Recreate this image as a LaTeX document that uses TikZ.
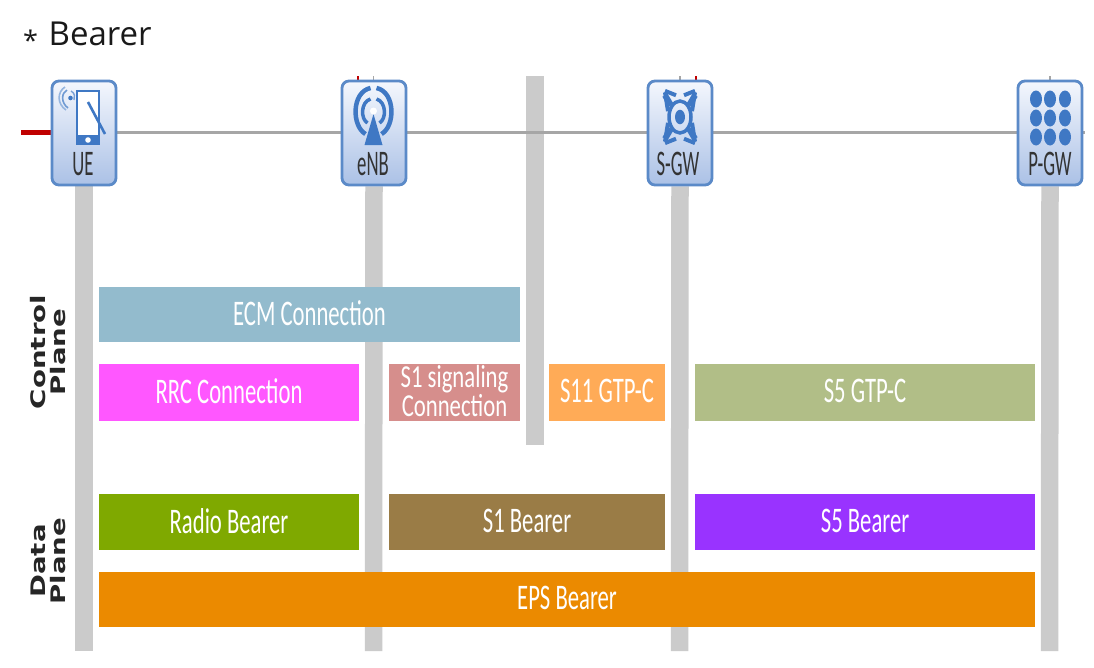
\documentclass[tikz,border=0pt]{standalone}
\usepackage{graphicx}
\usepackage{fontspec}
\setmainfont{Carlito}
\newfontfamily\titlefont{Open Sans}
\newfontfamily\planefont{DejaVu Sans}
\usetikzlibrary{backgrounds}
\definecolor{boxline}{HTML}{5B8AC8}
\definecolor{boxtop}{HTML}{F4F7FD}
\definecolor{boxbot}{HTML}{ABC1E6}
\definecolor{icon}{HTML}{3F78C4}
\definecolor{life}{HTML}{CBCBCB}
\definecolor{wire}{HTML}{A6A6A6}
\definecolor{redw}{HTML}{C00000}
\definecolor{cECM}{HTML}{93BBCD}
\definecolor{cRRC}{HTML}{FF57FF}
\definecolor{cSig}{HTML}{D68E8C}
\definecolor{cSeleven}{HTML}{FFAB57}
\definecolor{cSfive}{HTML}{B1BE87}
\definecolor{cRadio}{HTML}{7FA900}
\definecolor{cSone}{HTML}{9A7C46}
\definecolor{cSfiveB}{HTML}{9933FF}
\definecolor{cEPS}{HTML}{EB8A00}
\newcommand{\cond}[1]{\raisebox{2.5pt}{\scalebox{.63}[1]{#1}}}
\newcommand{\condn}[1]{\scalebox{.52}[1]{#1}}
\newcommand{\wide}[1]{\scalebox{1.38}[1]{#1}}
\tikzset{
 x=1pt,y=-1pt,
 netbox/.style={draw=boxline,line width=2.8pt,rounded corners=7pt,top color=boxtop,bottom color=boxbot,minimum width=64pt,minimum height=104pt,inner sep=0pt},
 nlabel/.style={font=\fontsize{36}{36}\selectfont,text=black!80,inner sep=0pt},
 bar/.style={inner sep=0pt,outer sep=0pt,text=white,font=\fontsize{36}{25}\selectfont,align=center},
 lifeline/.style={draw=life,line width=17.5pt},
 wireline/.style={draw=wire,line width=3pt},
 tick/.style={line width=1.5pt},
 plane/.style={font=\planefont\bfseries\fontsize{20}{20}\selectfont,rotate=90,align=center,text=black!85,inner sep=0pt},
}
\begin{document}
\begin{tikzpicture}
\useasboundingbox (0,0) rectangle (1094,667);
\node[font=\titlefont\fontsize{33}{33}\selectfont,anchor=west,inner sep=0pt,text=black!90] (title) at (23,36) {\raisebox{-5pt}{\fontsize{27}{27}\selectfont *}\hspace{2pt} Bearer};

\coordinate (ueend) at (84,651);
\coordinate (enbend) at (373.5,651);
\coordinate (sgwend) at (679.5,651);
\coordinate (pgwend) at (1049.5,651);
\coordinate (midtop) at (535,76);
\coordinate (midend) at (535,445);
\coordinate (redstart) at (21,132);
\coordinate (wireend) at (1085,132);

\node[netbox] (UE) at (84,133) {};
\node[netbox] (eNB) at (374,133) {};
\node[netbox] (SGW) at (680,133) {};
\node[netbox] (PGW) at (1050,133) {};

\begin{scope}[on background layer]
\fill[white] (0,0) rectangle (1094,667);
\draw[lifeline] (UE.south) -- (ueend);
\draw[lifeline] (eNB.south) -- (enbend);
\draw[lifeline] (SGW.south) -- (sgwend);
\draw[lifeline] (PGW.south) -- (pgwend);
\draw[lifeline] (midtop) -- (midend);
\draw[wireline] (UE.east |- 0,132) -- (eNB.west |- 0,132);
\draw[wireline] (eNB.east |- 0,132) -- (SGW.west |- 0,132);
\draw[wireline] (SGW.east |- 0,132) -- (PGW.west |- 0,132);
\draw[wireline] (PGW.east |- 0,132) -- (wireend);
\draw[draw=redw,line width=5pt] (redstart) -- (UE.west |- 0,132);
\draw[redw,tick,line width=2.5pt] (358,76) -- (358,80);
\draw[redw,tick,line width=2.5pt] (696,76) -- (696,80);
\draw[wire,tick] (373.5,76) -- (373.5,80);
\draw[wire,tick] (680,76) -- (680,80);
\draw[wire,tick] (1050,76) -- (1050,80);
\end{scope}

\node[nlabel] (UEl) at (83,164) {\condn{UE}};
\node[nlabel] (eNBl) at (373,164) {\condn{eNB}};
\node[nlabel] (SGWl) at (678,164) {\condn{S-GW}};
\node[nlabel] (PGWl) at (1050,164) {\condn{P-GW}};

% UE icon
\fill[icon] (76,90) rectangle (100,145);
\fill[white] (78,92) rectangle (98,135);
\fill[white] (88,140) circle (2.8);
\draw[icon,line width=2.6pt] (88,102) -- (105,134);
\fill[icon] (70.5,98) circle (2.3);
\draw[icon!75,line width=1.6pt] (67,90) .. controls (61,93) and (61,103) .. (68,108);
\draw[icon!55,line width=1.6pt] (65,87) .. controls (57,92) and (57,104) .. (66,110);
\draw[icon!70,line width=1.4pt] (71,91) .. controls (75,93) and (75,97) .. (74,100);

% eNB icon
\begin{scope}[shift={(373.5,112)}]
\draw[icon,line width=4.5pt] (-3,-24) .. controls (-22,-20) and (-22,14) .. (-8,22);
\draw[icon,line width=4.5pt] (3,-24) .. controls (22,-20) and (22,14) .. (8,22);
\draw[icon,line width=3.5pt] (-3,-13) .. controls (-13,-10) and (-13,7) .. (-6,11);
\draw[icon,line width=3.5pt] (3,-13) .. controls (13,-10) and (13,7) .. (6,11);
\fill[icon] (0,2) -- (9,33) -- (-9,33) -- cycle;
\fill[white] (0,-1) circle (3.5);
\end{scope}

% S-GW icon
\begin{scope}[shift={(680,117)},yscale=1.45]
\fill[icon] (0,0) circle (5);
\draw[icon,line width=3.5pt] (0,0) circle (11);
\foreach \a/\b in {-1/-1,1/-1,-1/1,1/1}{
 \draw[icon,line width=6pt] (\a*9,\b*8) -- (\a*15,\b*15);
 \draw[icon,line width=4pt] (\a*4,\b*15) -- (\a*15,\b*18);
 \draw[icon,line width=4pt] (\a*12,\b*4) -- (\a*15,\b*17);
}
\end{scope}

% P-GW icon
\foreach \cx in {1036,1050,1065}
 \foreach \cy in {99,118,137}
  \fill[icon] (\cx,\cy) ellipse (6 and 8.5);

% bars
\node[bar,fill=cECM,minimum width=421pt,minimum height=55pt] (ecm) at (309.5,314.5) {\cond{ECM Connection}};
\node[bar,fill=cRRC,minimum width=260pt,minimum height=57pt] (rrc) at (229,392.5) {\cond{RRC Connection}};
\fill[cSig] (389,364) rectangle (520,421);
\node[bar,font=\fontsize{32}{23}\selectfont] (sig) at (454.5,391) {\scalebox{.71}[1]{S1 signaling}\\\scalebox{.71}[1]{Connection}};
\node[bar,fill=cSeleven,minimum width=116pt,minimum height=57pt] (s11) at (607,392.5) {\cond{S11 GTP-C}};
\node[bar,fill=cSfive,minimum width=340pt,minimum height=57pt] (s5c) at (865,392.5) {\cond{S5 GTP-C}};
\node[bar,fill=cRadio,minimum width=260pt,minimum height=56pt] (radio) at (229,522) {\cond{Radio Bearer}};
\node[bar,fill=cSone,minimum width=276pt,minimum height=56pt] (s1b) at (527,522) {\cond{S1 Bearer}};
\node[bar,fill=cSfiveB,minimum width=340pt,minimum height=56pt] (s5b) at (865,522) {\cond{S5 Bearer}};
\node[bar,fill=cEPS,minimum width=936pt,minimum height=55pt] (eps) at (567,599.5) {\cond{EPS Bearer}};

\node[plane] (cp) at (48,352) {\wide{Control}\\\wide{Plane}};
\node[plane] (dp) at (48,561) {\wide{Data}\\\wide{Plane}};
\end{tikzpicture}
\end{document}
